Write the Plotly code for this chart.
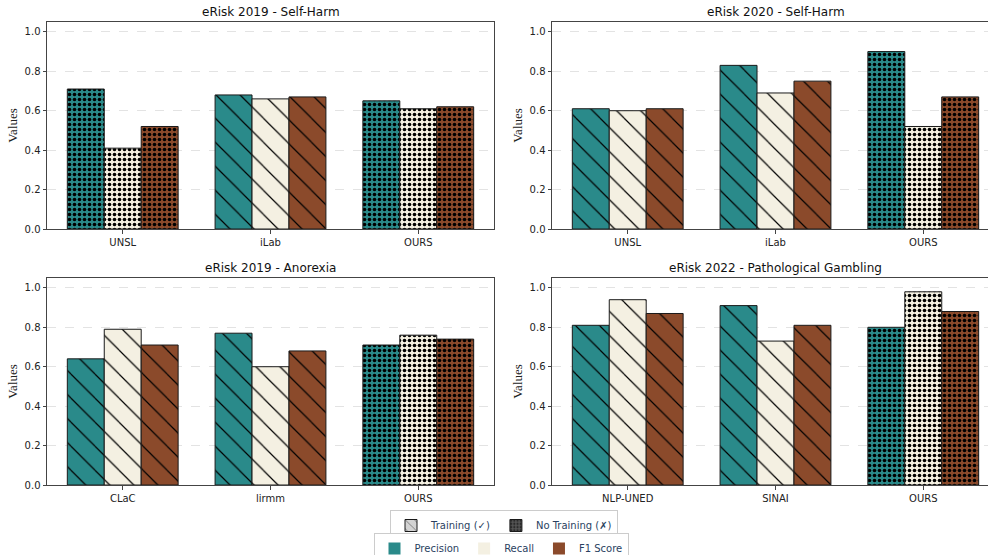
import plotly.graph_objects as go

titles = ["eRisk 2019 - Self-Harm", "eRisk 2020 - Self-Harm",
          "eRisk 2019 - Anorexia", "eRisk 2022 - Pathological Gambling"]
methods = [["UNSL", "iLab", "OURS"],
           ["UNSL", "iLab", "OURS"],
           ["CLaC", "lirmm", "OURS"],
           ["NLP-UNED", "SINAI", "OURS"]]
precision = [[0.71, 0.68, 0.65], [0.61, 0.83, 0.90], [0.64, 0.77, 0.71], [0.81, 0.91, 0.80]]
recall = [[0.41, 0.66, 0.61], [0.60, 0.69, 0.52], [0.79, 0.60, 0.76], [0.94, 0.73, 0.98]]
f1_score = [[0.52, 0.67, 0.62], [0.61, 0.75, 0.67], [0.71, 0.68, 0.74], [0.87, 0.81, 0.88]]
trained = [[False, True, False], [True, True, False], [True, True, False], [True, True, False]]
metric_names = ["Precision", "Recall", "F1 Score"]
y_ticks = [0.0, 0.2, 0.4, 0.6, 0.8, 1.0]

colors = ["#2a8a8a", "#f4f0e2", "#8b4a2b"]
# the page is 988 px wide; the right-hand panels run slightly past its edge
W, H = 1000, 555


def px(x):
    return x / W


def py(y):
    return 1 - y / H


# pixel boxes in the target picture (left, right, top, bottom)
boxes = [(47, 494, 22, 229), (552, 999, 22, 229), (47, 494, 278, 485), (552, 999, 278, 485)]

fig = go.Figure()
for i in range(4):
    suffix = "" if i == 0 else str(i + 1)
    series = [precision[i], recall[i], f1_score[i]]
    for k in range(3):
        shapes = ["\\" if t else "." for t in trained[i]]
        sizes = [17 if t else 5 for t in trained[i]]
        solid = [0.07 if t else 0.42 for t in trained[i]]
        fig.add_trace(go.Bar(
            x=methods[i], y=series[k], name=metric_names[k], showlegend=False,
            marker=dict(color=colors[k], line=dict(color="#1a1a1a", width=1),
                        pattern=dict(shape=shapes, size=sizes, solidity=solid,
                                     fgcolor="black", fgopacity=1)),
            xaxis="x" + suffix, yaxis="y" + suffix, hoverinfo="x+y"))
    l, r, t, b = boxes[i]
    fig.layout["xaxis" + suffix] = dict(
        domain=[px(l), min(px(r), 1)], anchor="y" + suffix, type="category",
        range=[-0.5125, 2.5125], showline=True, mirror=True, linecolor="#444",
        linewidth=1, ticks="outside", ticklen=3.5, tickcolor="#444",
        tickfont=dict(family="DejaVu Sans", size=10, color="#222"), showgrid=False)
    fig.layout["yaxis" + suffix] = dict(
        domain=[py(b), py(t)], anchor="x" + suffix, range=[0, 1.05],
        tickvals=y_ticks, ticktext=["%.1f" % v for v in y_ticks],
        showline=True, mirror=True, linecolor="#444", linewidth=1,
        ticks="outside", ticklen=3.5, tickcolor="#444",
        tickfont=dict(family="DejaVu Sans", size=10, color="#222"),
        showgrid=True, gridcolor="#e3e3e3", griddash="dash", gridwidth=1,
        zeroline=False,
        title=dict(text="Values", font=dict(family="Liberation Serif", size=13, color="#222"),
                   standoff=4))
    fig.add_annotation(text=titles[i], x=(px(l) + px(r)) / 2, y=py(t - 10),
                       xref="paper", yref="paper", xanchor="center", yanchor="middle",
                       showarrow=False, font=dict(family="DejaVu Sans", size=12, color="#111"))

# hidden axes for legend-only entries
fig.layout["xaxis5"] = dict(domain=[0, 0.01], anchor="y5", visible=False)
fig.layout["yaxis5"] = dict(domain=[0, 0.01], anchor="x5", visible=False)

# legend 1: training style
fig.add_trace(go.Bar(x=[None], y=[None], name="Training (\u2713)", legend="legend",
                     xaxis="x5", yaxis="y5",
                     marker=dict(color="#d3d3d3", line=dict(color="#1a1a1a", width=1),
                                 pattern=dict(shape="\\", size=8, solidity=0.12, fgcolor="black"))))
fig.add_trace(go.Bar(x=[None], y=[None], name="No Training (\u2717)", legend="legend",
                     xaxis="x5", yaxis="y5",
                     marker=dict(color="#555555", line=dict(color="#1a1a1a", width=1),
                                 pattern=dict(shape=".", size=4, solidity=0.4, fgcolor="black"))))
# legend 2: metrics
for k in range(3):
    fig.add_trace(go.Bar(x=[None], y=[None], name=metric_names[k], legend="legend2",
                         xaxis="x5", yaxis="y5",
                         marker=dict(color=colors[k], line=dict(width=0))))

fig.update_layout(
    width=W, height=H, margin=dict(l=0, r=0, t=0, b=0, autoexpand=False),
    plot_bgcolor="white", paper_bgcolor="white",
    barmode="group", bargap=0.25, bargroupgap=0,
    legend=dict(orientation="h", x=px(504), xanchor="center", y=py(510), yanchor="top",
                bordercolor="#cccccc", borderwidth=1, font=dict(family="DejaVu Sans", size=10),
                bgcolor="white", tracegroupgap=0, itemwidth=30),
    legend2=dict(orientation="h", x=px(501), xanchor="center", y=py(533), yanchor="top",
                 bordercolor="#cccccc", borderwidth=1, font=dict(family="DejaVu Sans", size=10),
                 bgcolor="white", itemwidth=30),
)

fig.write_html("out.html", config={"displayModeBar": False},
               post_script="document.body.style.margin='0';document.body.style.overflow='hidden';")
